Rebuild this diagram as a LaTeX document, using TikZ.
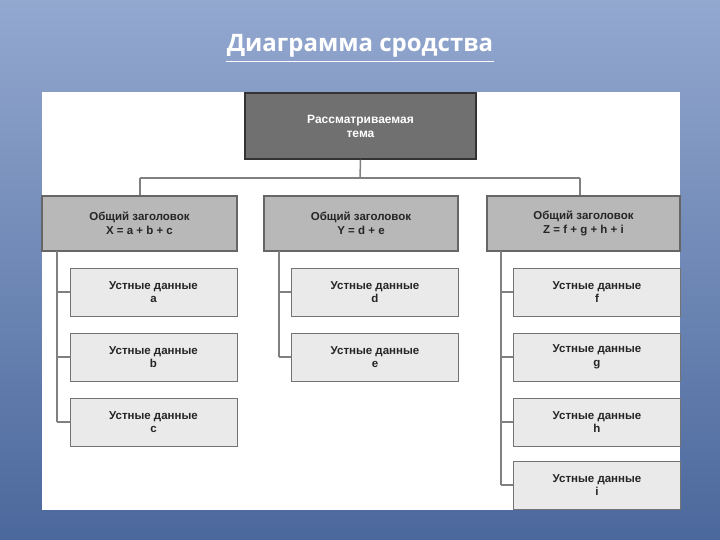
\documentclass[tikz,border=0pt]{standalone}
\usepackage{fontspec}
\setmainfont{Liberation Sans}
\newfontfamily\titlefont{Open Sans}
\definecolor{bgtop}{HTML}{93A8CF}
\definecolor{bgbot}{HTML}{4B689C}
\definecolor{topfill}{HTML}{707070}
\definecolor{hdrfill}{HTML}{B8B8B8}
\definecolor{leaffill}{HTML}{EAEAEA}
\definecolor{linecol}{HTML}{808080}
\begin{document}
\begin{tikzpicture}[x=1pt,y=-1pt,
  topbox/.style={draw=black!80,line width=1.5pt,fill=topfill,text=white,font=\bfseries\fontsize{12}{14}\selectfont,align=center,inner sep=0pt},
  hdrbox/.style={draw=black!60,line width=1.2pt,fill=hdrfill,text=black!85,font=\bfseries\fontsize{11.5}{13.5}\selectfont,align=center,inner sep=0pt},
  leafbox/.style={draw=black!55,line width=1pt,fill=leaffill,text=black!85,font=\bfseries\fontsize{11.5}{13.5}\selectfont,align=center,inner sep=0pt},
  conn/.style={draw=linecol,line width=1.5pt}]
\shade[top color=bgtop,bottom color=bgbot] (0,0) rectangle (720,540);
\useasboundingbox (0,0) rectangle (720,540);
\node[text=white,font=\titlefont\bfseries\fontsize{24}{28}\selectfont,inner sep=1pt] (title) at (360,46) {Диаграмма сродства};
\draw[white,line width=1.5pt] ([yshift=-3pt]title.south west) -- ([yshift=-3pt]title.south east);
\fill[white] (42,92) rectangle (680,510);
\node[topbox,minimum width=231pt,minimum height=66pt] (top) at (360.5,126) {Рассматриваемая\\тема};
\coordinate (busL) at (140,178);
\coordinate (busR) at (580,178);
\coordinate (busM) at (360,178);
\draw[conn] (top.south) -- (busM);
\draw[conn] (busL) -- (busR);
\node[hdrbox,minimum width=195pt,minimum height=55pt] (hx) at (139.5,223.5) {Общий заголовок\\X = a + b + c};
\node[hdrbox,minimum width=194pt,minimum height=55pt] (hy) at (361,223.5) {Общий заголовок\\Y = d + e};
\node[hdrbox,minimum width=193pt,minimum height=55pt] (hz) at (583.5,223.5) {Общий заголовок\\Z = f + g + h + i};
\draw[conn] (busL) -- (hx.north -| busL);
\draw[conn] (busR) -- (hz.north -| busR);
\foreach \n/\cx/\cy/\t in {xa/153.5/292/a, xb/153.5/357/b, xc/153.5/422/c,
  yd/375/292/d, ye/375/357/e,
  zf/597/292/f, zg/597/357/g, zh/597/422/h, zi/597/485/i}{
  \node[leafbox,minimum width=167pt,minimum height=48pt] (\n) at (\cx,\cy) {Устные данные\\\t};
}
\coordinate (vx) at (57,251);
\coordinate (vy) at (279,251);
\coordinate (vz) at (501,251);
\draw[conn,line width=1.2pt] (vx) -- (vx |- xc.west);
\draw[conn,line width=1.2pt] (vy) -- (vy |- ye.west);
\draw[conn,line width=1.2pt] (vz) -- (vz |- zi.west);
\foreach \n/\v in {xa/vx,xb/vx,xc/vx,yd/vy,ye/vy,zf/vz,zg/vz,zh/vz,zi/vz}{
  \draw[conn,line width=1.2pt] (\v |- \n.west) -- (\n.west);
}
\end{tikzpicture}
\end{document}
